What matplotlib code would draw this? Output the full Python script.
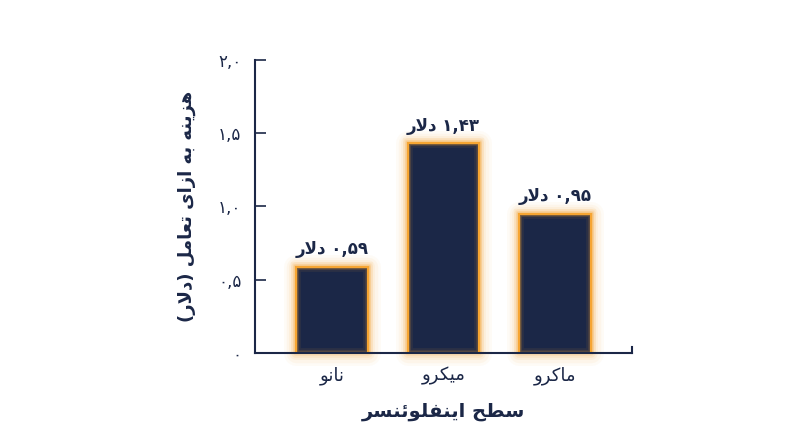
import matplotlib
matplotlib.use('Agg')
import matplotlib.pyplot as plt
from matplotlib.lines import Line2D

# data
levels = ['نانو', 'میکرو', 'ماکرو']
cost = [0.59, 1.43, 0.95]
cost_labels = ['۰,۵۹ دلار', '۱,۴۳ دلار', '۰,۹۵ دلار']
yticks = [0, 0.5, 1.0, 1.5, 2.0]
ytick_labels = ['۰', '۰,۵', '۱,۰', '۱,۵', '۲,۰']
xlabel = 'سطح اینفلوئنسر'
ylabel = 'هزینه به ازای تعامل (دلار)'

NAVY = '#1b2747'
ORANGE = '#f6a532'

# presentation forms: isolated, final, initial, medial
FORMS = {
    'ا': ('\uFE8D', '\uFE8E'),
    'ب': ('\uFE8F', '\uFE90', '\uFE91', '\uFE92'),
    'ت': ('\uFE95', '\uFE96', '\uFE97', '\uFE98'),
    'ح': ('\uFEA1', '\uFEA2', '\uFEA3', '\uFEA4'),
    'د': ('\uFEA9', '\uFEAA'),
    'ر': ('\uFEAD', '\uFEAE'),
    'ز': ('\uFEAF', '\uFEB0'),
    'س': ('\uFEB1', '\uFEB2', '\uFEB3', '\uFEB4'),
    'ط': ('\uFEC1', '\uFEC2', '\uFEC3', '\uFEC4'),
    'ع': ('\uFEC9', '\uFECA', '\uFECB', '\uFECC'),
    'ف': ('\uFED1', '\uFED2', '\uFED3', '\uFED4'),
    'ل': ('\uFEDD', '\uFEDE', '\uFEDF', '\uFEE0'),
    'م': ('\uFEE1', '\uFEE2', '\uFEE3', '\uFEE4'),
    'ن': ('\uFEE5', '\uFEE6', '\uFEE7', '\uFEE8'),
    'ه': ('\uFEE9', '\uFEEA', '\uFEEB', '\uFEEC'),
    'و': ('\uFEED', '\uFEEE'),
    'ئ': ('\uFE89', '\uFE8A', '\uFE8B', '\uFE8C'),
    'ی': ('\uFBFC', '\uFBFD', '\uFBFE', '\uFBFF'),
    'ک': ('\uFB8E', '\uFB8F', '\uFB90', '\uFB91'),
}


def joins_next(c):
    return c in FORMS and len(FORMS[c]) == 4


def shape(word):
    out = []
    i = 0
    while i < len(word):
        c = word[i]
        prev = word[i - 1] if i > 0 else ''
        nxt = word[i + 1] if i + 1 < len(word) else ''
        if c not in FORMS:
            out.append(c)
            i += 1
            continue
        link_prev = joins_next(prev)
        if c == 'ل' and nxt == 'ا':
            out.append('\uFEFC' if link_prev else '\uFEFB')
            i += 2
            continue
        link_next = joins_next(c) and nxt in FORMS
        f = FORMS[c]
        if link_prev and link_next:
            out.append(f[3])
        elif link_prev:
            out.append(f[1])
        elif link_next:
            out.append(f[2])
        else:
            out.append(f[0])
        i += 1
    return ''.join(out)


def rtl(text):
    vis = []
    for w in text.split(' '):
        if all(ch in '۰۱۲۳۴۵۶۷۸۹,' for ch in w):
            vis.append(w)
        else:
            s = shape(w)[::-1]
            s = s.translate(str.maketrans('()', ')('))
            vis.append(s)
    return ' '.join(vis[::-1])


plt.rcParams['font.family'] = ['DejaVu Sans']

fig = plt.figure(figsize=(8, 4.47), dpi=100)
ax = fig.add_axes([0.319, 0.2103, 0.471, 0.6555])

x = list(range(len(levels)))
width = 0.64

# soft orange glow around bars
for lw, a in [(18, 0.04), (14, 0.06), (10, 0.08), (7, 0.11), (4, 0.16)]:
    ax.bar(x, cost, width, facecolor='none', edgecolor=ORANGE, linewidth=lw,
           alpha=a, clip_on=False, zorder=2, joinstyle='round')
ax.bar(x, cost, width, color=NAVY, edgecolor='none', zorder=3)
for lw, a in [(7, 0.08), (4, 0.14), (2.5, 0.25)]:
    ax.bar(x, cost, width, facecolor='none', edgecolor=ORANGE, linewidth=lw,
           alpha=a, zorder=4)
ax.bar(x, cost, width, facecolor='none', edgecolor=ORANGE, linewidth=1.5, zorder=5)

for xi, v, lab in zip(x, cost, cost_labels):
    ax.text(xi, v + 0.06, rtl(lab), ha='center', va='bottom', fontsize=12,
            fontweight='bold', color=NAVY)

ax.set_xlim(-0.69, 2.69)
ax.set_ylim(0, 2.0)
ax.set_xticks(x)
ax.set_xticklabels([rtl(l) for l in levels], fontsize=13, color=NAVY)
ax.set_yticks(yticks)
ax.set_yticklabels(ytick_labels, fontsize=12, color=NAVY)
ax.tick_params(axis='x', length=0, pad=10)
ax.tick_params(axis='y', direction='in', length=8, width=1.2, color=NAVY, pad=10)

for s in ['top', 'right']:
    ax.spines[s].set_visible(False)
for s in ['left', 'bottom']:
    ax.spines[s].set_color(NAVY)
    ax.spines[s].set_linewidth(1.5)
    ax.spines[s].set_zorder(6)

ax.add_line(Line2D([1, 1], [0, 0.02], transform=ax.transAxes, color=NAVY,
                   linewidth=1.5, clip_on=False, zorder=6))

ax.set_xlabel(rtl(xlabel), fontsize=14, fontweight='bold', color=NAVY, labelpad=12)
ax.set_ylabel(rtl(ylabel), fontsize=13, fontweight='bold', color=NAVY, labelpad=16)

fig.savefig('out.png', dpi=100, facecolor='white')
